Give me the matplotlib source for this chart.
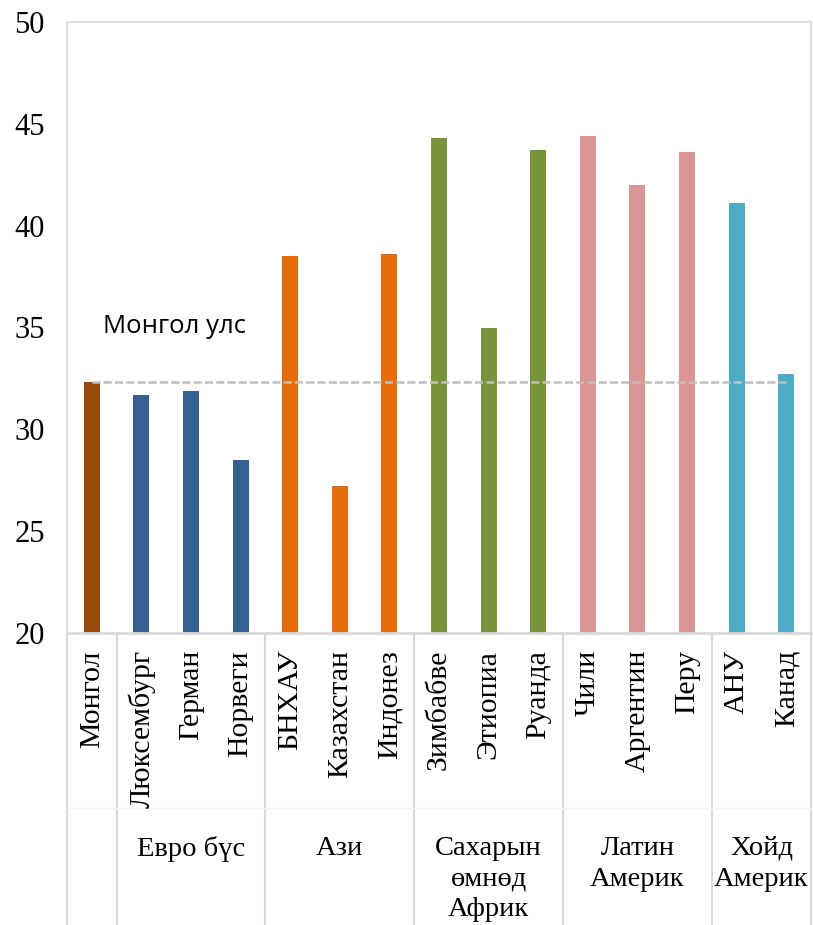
import matplotlib
matplotlib.use("Agg")
import matplotlib.pyplot as plt
from matplotlib.transforms import blended_transform_factory

countries = ["Монгол", "Люксембург", "Герман", "Норвеги", "БНХАУ", "Казахстан", "Индонез",
             "Зимбабве", "Этиопиа", "Руанда", "Чили", "Аргентин", "Перу", "АНУ", "Канад"]
values = [32.3, 31.7, 31.9, 28.5, 38.5, 27.2, 38.6, 44.3, 35.0, 43.7, 44.4, 42.0, 43.6, 41.1, 32.7]
groups = ["", "Евро бүс", "Ази", "Сахарын\nөмнөд\nАфрик", "Латин\nАмерик", "Хойд\nАмерик"]
group_sizes = [1, 3, 3, 3, 3, 2]
group_colors = ["#984807", "#376092", "#E46C0A", "#77933C", "#D99694", "#4BACC6"]
mongolia_value = 32.3
mongolia_label = "Монгол улс"
yticks = [20, 25, 30, 35, 40, 45, 50]

W, H = 813, 925
fig = plt.figure(figsize=(W / 100, H / 100), dpi=100)
ax = fig.add_axes([67 / W, 1 - 633 / H, (811 - 67) / W, (633 - 22) / H])

colors = []
for c, n in zip(group_colors, group_sizes):
    colors += [c] * n
x = list(range(len(countries)))
ax.bar(x, [v - 20 for v in values], bottom=20, width=0.32, color=colors, zorder=2)

ax.plot([0, len(countries) - 1], [mongolia_value, mongolia_value], color="#BFBFBF",
        lw=1.8, dashes=(3.2, 1.3), zorder=3)
ax.text(0.22, 35.05, mongolia_label, fontsize=18.5, family="Open Sans", va="center", ha="left")

ax.set_xlim(-0.5, len(countries) - 0.5)
ax.set_ylim(20, 50)
ax.set_yticks(yticks)
ax.set_yticklabels([str(t) for t in yticks], family="Liberation Serif", fontsize=22)
ax.tick_params(axis="y", length=0, pad=16)
ax.set_xticks([])
for s in ax.spines.values():
    s.set_color("#D9D9D9")
    s.set_linewidth(1.2)
ax.spines["bottom"].set_linewidth(2.0)

trans = blended_transform_factory(ax.transData, fig.transFigure)
y_label_top = 1 - 650 / H
for i, name in enumerate(countries):
    ax.text(i, y_label_top, name, transform=trans, rotation=90, ha="center", va="top",
            family="Liberation Serif", fontsize=21.5, clip_on=False)

# group separators & labels
bounds = [-0.5]
for n in group_sizes:
    bounds.append(bounds[-1] + n)
for b in bounds:
    ax.plot([b, b], [1 - 633 / H, 0], transform=trans, color="#D9D9D9", lw=1.5, clip_on=False)
ax.plot([-0.5, len(countries) - 0.5], [1 - 808 / H, 1 - 808 / H], transform=trans,
        color="#F4F4F4", lw=1.0, clip_on=False)
for g, b0, b1 in zip(groups, bounds[:-1], bounds[1:]):
    if not g:
        continue
    ax.text((b0 + b1) / 2, 1 - 836 / H, g, transform=trans, ha="center", va="top",
            family="Liberation Serif", fontsize=20.5, linespacing=1.3, clip_on=False)

fig.savefig("out.png", dpi=100)
